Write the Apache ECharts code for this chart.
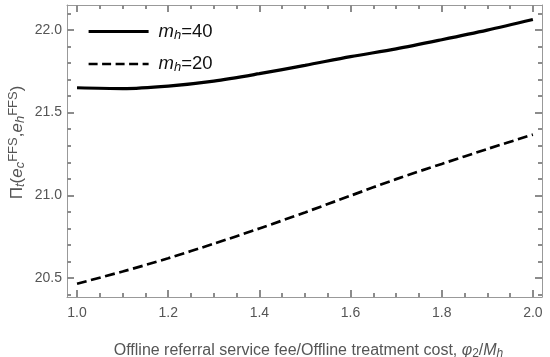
<!DOCTYPE html>
<html>
<head>
<meta charset="utf-8">
<script src="https://cdn.jsdelivr.net/npm/echarts@6/dist/echarts.min.js"></script>
<style>html,body{margin:0;padding:0;background:#fff}#c{width:550px;height:357px}</style>
</head>
<body>
<div id="c"></div>
<script>
// Data
const xValues = [1.0, 1.1, 1.2, 1.3, 1.4, 1.5, 1.6, 1.7, 1.8, 1.9, 2.0];
const mh40 = [21.650, 21.645, 21.660, 21.690, 21.735, 21.785, 21.838, 21.885, 21.940, 21.998, 22.062];
const mh20 = [20.466, 20.540, 20.620, 20.708, 20.800, 20.897, 20.998, 21.098, 21.190, 21.280, 21.367];
const seriesNames = ['m40', 'm20'];
const legendLabels = {m40: '{i|m}{s|h}{n|=40}', m20: '{i|m}{s|h}{n|=20}'};
// Tick layout (labels at 0.2 / 0.5 steps, minor ticks at 0.05 / 0.1)
const xTickRange = [1.0, 2.0], xMajorStep = 0.2, xMinorSplit = 4;
const yTickRange = [20.5, 22.0], yMajorStep = 0.5;
const yMinorRange = [20.4, 22.1], yMinorStep = 0.1;
// Full frame ranges
const xRange = [0.978, 2.02];
const yRange = [20.386, 22.15];

const FONT = 'Liberation Sans, Arial, sans-serif';
const frame = '#999999';
const tickColor = '#8c8c8c';
const labelColor = '#555';

// Main grid geometry
const G = {left: 67, right: 8, top: 5, bottom: 60};
const W = 550 - G.left - G.right, H = 357 - G.top - G.bottom;
const px = v => G.left + (v - xRange[0]) / (xRange[1] - xRange[0]) * W;
const py = v => G.top + (yRange[1] - v) / (yRange[1] - yRange[0]) * H;

const grids = [
  Object.assign({outerBoundsMode: 'none', containLabel: false}, G),
  {left: px(xTickRange[0]), right: 550 - px(xTickRange[1]), top: G.top, bottom: G.bottom, outerBoundsMode: 'none', containLabel: false},
  {left: G.left, right: G.right, top: py(yTickRange[1]), bottom: 357 - py(yTickRange[0]), outerBoundsMode: 'none', containLabel: false},
  {left: G.left, right: G.right, top: py(yMinorRange[1]), bottom: 357 - py(yMinorRange[0]), outerBoundsMode: 'none', containLabel: false}
];

const hidden = (gi, extra) => Object.assign({type: 'value', gridIndex: gi, show: false, min: 0, max: 1}, extra || {});
const lineOnly = {show: true, onZero: false, lineStyle: {color: frame, width: 1}};
const noLine = {show: false, onZero: false};
const tick = len => ({show: true, inside: true, length: len, lineStyle: {color: tickColor, width: 2}});
const minor = {show: true, splitNumber: xMinorSplit, length: 4, lineStyle: {color: tickColor, width: 2}};
const labelStyle = {color: labelColor, fontSize: 14, fontFamily: FONT, formatter: v => Number(v).toFixed(1)};

const xAxes = [
  {type: 'value', gridIndex: 0, position: 'bottom', min: xRange[0], max: xRange[1], axisLine: lineOnly, axisTick: {show: false}, axisLabel: {show: false}, splitLine: {show: false},
    name: 'Offline referral service fee/Offline treatment cost, {i|φ}{sub|2}/{i|M}{isub|h}',
    nameLocation: 'middle', nameGap: 44,
    nameTextStyle: {color: labelColor, fontSize: 16, fontFamily: FONT, padding: [0,0,0,8],
      rich: {
        i: {fontStyle: 'italic', fontSize: 16, fontFamily: FONT, color: labelColor},
        sub: {fontSize: 12, fontFamily: FONT, color: labelColor, verticalAlign: 'bottom', padding: [7,0,0,0]},
        isub: {fontStyle: 'italic', fontSize: 12, fontFamily: FONT, color: labelColor, verticalAlign: 'bottom', padding: [7,0,0,0]}
      }}},
  {type: 'value', gridIndex: 0, position: 'top', min: xRange[0], max: xRange[1], axisLine: lineOnly, axisTick: {show: false}, axisLabel: {show: false}, splitLine: {show: false}},
  {type: 'value', gridIndex: 1, position: 'bottom', min: xTickRange[0], max: xTickRange[1], interval: xMajorStep,
    axisLine: noLine, axisTick: tick(7), minorTick: minor,
    axisLabel: Object.assign({show: true, margin: 9}, labelStyle), splitLine: {show: false}, minorSplitLine: {show: false}},
  {type: 'value', gridIndex: 1, position: 'top', min: xTickRange[0], max: xTickRange[1], interval: xMajorStep,
    axisLine: noLine, axisTick: tick(7), minorTick: minor,
    axisLabel: {show: false}, splitLine: {show: false}, minorSplitLine: {show: false}},
  hidden(2), hidden(3)
];
const yAxes = [
  {type: 'value', gridIndex: 0, position: 'left', min: yRange[0], max: yRange[1], axisLine: lineOnly, axisTick: {show: false}, axisLabel: {show: false}, splitLine: {show: false},
    name: '{n|Π}{sub|t}{n|(}{i|e}{sub|c}{sup|FFS}{n|,}{i|e}{sub|h}{sup|FFS}{n|)}',
    nameLocation: 'middle', nameGap: 40, nameRotate: 90,
    nameTextStyle: {color: labelColor, fontSize: 16, fontFamily: FONT, padding: [0,0,0,17],
      rich: {
        n: {fontSize: 17, fontFamily: FONT, color: labelColor, lineHeight: 20},
        i: {fontStyle: 'italic', fontSize: 17, fontFamily: FONT, color: labelColor, lineHeight: 20},
        sub: {fontStyle: 'italic', fontSize: 13, fontFamily: FONT, color: labelColor, verticalAlign: 'bottom', lineHeight: 20},
        sup: {fontSize: 13, fontFamily: FONT, color: labelColor, verticalAlign: 'top', lineHeight: 20}
      }}},
  {type: 'value', gridIndex: 0, position: 'right', min: yRange[0], max: yRange[1], axisLine: lineOnly, axisTick: {show: false}, axisLabel: {show: false}, splitLine: {show: false}},
  hidden(1),
  {type: 'value', gridIndex: 2, position: 'left', min: yTickRange[0], max: yTickRange[1], interval: yMajorStep,
    axisLine: noLine, axisTick: tick(7), axisLabel: Object.assign({show: true, margin: 5}, labelStyle), splitLine: {show: false}},
  {type: 'value', gridIndex: 2, position: 'right', min: yTickRange[0], max: yTickRange[1], interval: yMajorStep,
    axisLine: noLine, axisTick: tick(7), axisLabel: {show: false}, splitLine: {show: false}},
  {type: 'value', gridIndex: 3, position: 'left', min: yMinorRange[0], max: yMinorRange[1], interval: yMinorStep,
    axisLine: noLine, axisTick: tick(4), axisLabel: {show: false}, splitLine: {show: false}},
  {type: 'value', gridIndex: 3, position: 'right', min: yMinorRange[0], max: yMinorRange[1], interval: yMinorStep,
    axisLine: noLine, axisTick: tick(4), axisLabel: {show: false}, splitLine: {show: false}}
];

const chart = echarts.init(document.getElementById('c'), null, {renderer: 'canvas'});
chart.setOption({
  animation: false,
  backgroundColor: '#fff',
  grid: grids,
  legend: {
    orient: 'vertical', left: 82, top: 17, itemWidth: 60, itemHeight: 20, itemGap: 13,
    data: [
      {name: seriesNames[0], lineStyle: {width: 3.2, color: '#000', type: 'solid'}},
      {name: seriesNames[1], lineStyle: {width: 2.7, color: '#000', type: [9, 4.5]}}
    ],
    itemStyle: {opacity: 0},
    formatter: n => legendLabels[n],
    textStyle: {
      color: '#111', fontFamily: FONT, fontSize: 18,
      rich: {
        i: {fontStyle: 'italic', fontSize: 18.5, fontFamily: FONT, color: '#111', padding: [0,0,0,5]},
        s: {fontStyle: 'italic', fontSize: 13, fontFamily: FONT, color: '#111', verticalAlign: 'bottom', padding: [7,0,0,0]},
        n: {fontSize: 18.5, fontFamily: FONT, color: '#111'}
      }
    }
  },
  xAxis: xAxes,
  yAxis: yAxes,
  series: [
    {
      name: 'm40', type: 'line', xAxisIndex: 0, yAxisIndex: 0, smooth: 0.3, symbol: 'none',
      data: xValues.map((x, i) => [x, mh40[i]]),
      lineStyle: {color: '#000', width: 3.2}, itemStyle: {color: '#000'}
    },
    {
      name: 'm20', type: 'line', xAxisIndex: 0, yAxisIndex: 0, smooth: 0.3, symbol: 'none',
      data: xValues.map((x, i) => [x, mh20[i]]),
      lineStyle: {color: '#000', width: 2.7, type: [10, 4.5]}, itemStyle: {color: '#000'}
    }
  ]
});
</script>
</body>
</html>
